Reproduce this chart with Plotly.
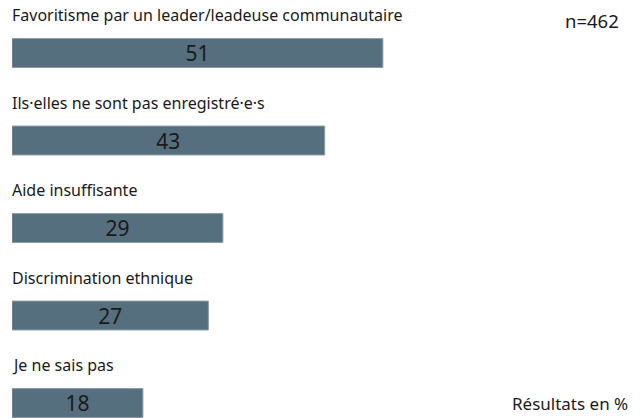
import plotly.graph_objects as go

categories = [
    "Favoritisme par un leader/leadeuse communautaire",
    "Ils·elles ne sont pas enregistré·e·s",
    "Aide insuffisante",
    "Discrimination ethnique",
    "Je ne sais pas",
]
values = [51, 43, 29, 27, 18]
n_label = "n=462"
unit_label = "Résultats en %"

pos = list(range(len(categories)))
FONT = "Noto Sans, sans-serif"

fig = go.Figure(go.Bar(
    x=values, y=pos, orientation="h",
    width=0.33,
    marker=dict(color="#566f7e", line=dict(color="#8a9ba6", width=1)),
    text=[str(v) for v in values],
    textposition="inside", insidetextanchor="middle", textangle=0,
    constraintext="none",
    textfont=dict(family=FONT, size=21, color="#1a1a1a"),
    hoverinfo="skip",
))

annotations = []
for i, c in zip(pos, categories):
    annotations.append(dict(
        x=0, y=i - 0.43, xref="x", yref="y", text=c, showarrow=False,
        xanchor="left", yanchor="middle", xshift=-2,
        font=dict(family=FONT, size=16, color="#1a1a1a"),
    ))
annotations.append(dict(x=0.968, y=0.95, xref="paper", yref="paper", text=n_label,
                        showarrow=False, xanchor="right", yanchor="middle",
                        font=dict(family=FONT, size=18.5, color="#1a1a1a")))
annotations.append(dict(x=0.982, y=0.035, xref="paper", yref="paper", text=unit_label,
                        showarrow=False, xanchor="right", yanchor="middle",
                        font=dict(family=FONT, size=17, color="#1a1a1a")))

fig.update_layout(
    width=641, height=418,
    margin=dict(l=12, r=0, t=0, b=0),
    paper_bgcolor="white", plot_bgcolor="white",
    showlegend=False,
    xaxis=dict(range=[0, 86.5], visible=False, fixedrange=True),
    yaxis=dict(range=[4.171, -0.606], visible=False, fixedrange=True),
    annotations=annotations,
)

fig.write_html("out.html")
